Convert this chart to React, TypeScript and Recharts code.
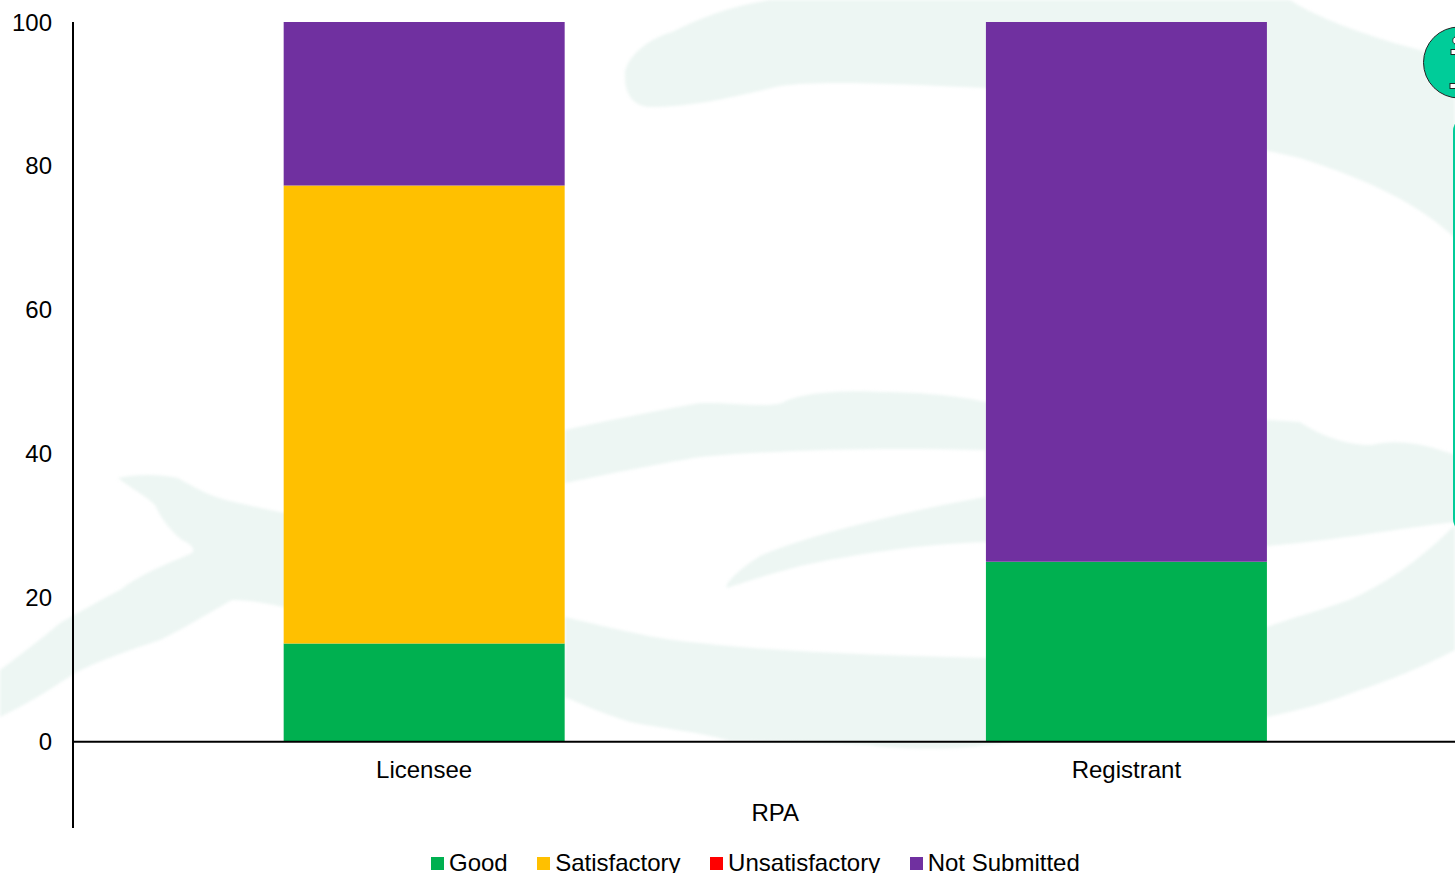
import { BarChart, Bar, XAxis, YAxis, ReferenceLine, Legend } from "recharts";

const categories = ["Licensee", "Registrant"];
const good = [13.64, 25];
const satisfactory = [63.64, 0];
const unsatisfactory = [0, 0];
const notSubmitted = [22.72, 75];
const yTicks = [0, 20, 40, 60, 80, 100];

const rows = categories.map((name, i) => ({
  name,
  Good: good[i],
  Satisfactory: satisfactory[i],
  Unsatisfactory: unsatisfactory[i],
  "Not Submitted": notSubmitted[i],
}));

const FONT = "'Liberation Sans', Arial, sans-serif";
const WASH = "#edf6f3";

// brush-stroke logo sitting behind the plot
const washPaths = [
  "M625 72 C628 55 650 38 672 32 C700 18 730 6 770 0 L1290 0 C1320 20 1380 40 1420 50 L1455 62 L1455 238 C1420 205 1370 180 1300 158 L985 88 C900 84 820 80 780 86 C730 98 690 107 650 107 C630 106 624 90 625 72 Z",
  "M565 430 C610 420 660 410 700 403 C730 402 765 408 782 403 C800 392 850 390 880 392 C920 392 960 396 985 402 L1300 422 C1320 436 1350 446 1372 445 C1400 438 1430 446 1455 455 L1455 522 C1400 528 1340 540 1267 546 L985 542 C920 544 850 555 800 566 C770 574 745 582 727 588 C724 585 735 572 760 556 C800 538 900 512 985 497 L985 450 C900 448 800 448 700 457 C650 465 600 476 565 483 Z",
  "M565 617 C620 630 660 640 700 643 C760 650 850 655 985 658 L1267 627 C1310 612 1340 605 1360 595 C1400 575 1430 550 1455 525 L1455 650 C1420 668 1390 680 1360 690 C1330 702 1300 710 1267 717 L985 745 C960 750 900 750 870 745 C820 742 770 741 730 741 C700 732 660 728 630 722 C605 714 585 706 565 697 Z",
  "M118 478 C135 474 160 474 178 478 C195 488 210 496 226 500 C250 506 270 510 290 514 L560 617 L560 697 L284 607 C270 604 250 600 232 600 C210 612 185 628 160 640 C130 650 100 660 75 673 C50 690 25 705 0 717 L0 670 C20 655 40 640 60 623 C80 612 100 600 120 590 C140 574 165 565 192 553 C196 548 190 544 182 540 C170 530 162 520 155 505 C145 495 130 488 118 478 Z",
];

function CategoryTick({ x, y, payload }: any) {
  return (
    <text x={x} y={y - 58} textAnchor="middle" fontSize={24} fontFamily={FONT} fill="#000">
      {payload.value}
    </text>
  );
}

function LegendRow({ payload }: any) {
  return (
    <div style={{ display: "flex", gap: 29.5, fontFamily: FONT, fontSize: 24, lineHeight: "24px", whiteSpace: "nowrap" }}>
      {payload.map((item: any) => (
        <div key={item.value} style={{ display: "flex", alignItems: "center", gap: 5 }}>
          <span style={{ width: 13, height: 13, background: item.color, display: "inline-block" }} />
          <span style={{ color: "#000" }}>{item.value}</span>
        </div>
      ))}
    </div>
  );
}

export default function App() {
  return (
    <div style={{ position: "absolute", left: 0, top: 0, width: 1455, height: 873, overflow: "hidden", background: "#fff" }}>
      <svg width={1455} height={873} style={{ position: "absolute", left: 0, top: 0, filter: "blur(1.5px)" }}>
        {washPaths.map((d, i) => (
          <path key={i} d={d} fill={WASH} />
        ))}
      </svg>
      <div style={{ position: "absolute", left: 0, top: 0 }}>
        <BarChart
          width={1500}
          height={873}
          data={rows}
          margin={{ top: 22, right: 22.5, left: 0, bottom: 44 }}
          barCategoryGap="30%"
        >
          <XAxis
            dataKey="name"
            axisLine={false}
            tickLine={false}
            height={1}
            interval={0}
            tick={CategoryTick}
            label={{ value: "RPA", position: "center", dy: -16, fontSize: 24, fontFamily: FONT, fill: "#000" }}
          />
          <YAxis
            width={73}
            domain={[-12, 100]}
            ticks={yTicks}
            interval={0}
            tickLine={false}
            tickSize={0}
            tickMargin={21}
            axisLine={{ stroke: "#000", strokeWidth: 2 }}
            tick={{ fontSize: 24, fontFamily: FONT, fill: "#000" }}
          />
          <Legend
            verticalAlign="middle"
            layout="horizontal"
            itemSorter={null}
            content={LegendRow}
            wrapperStyle={{ position: "absolute", left: 431, top: 851, width: "auto" }}
          />
          <Bar dataKey="Good" stackId="a" fill="#00b050" isAnimationActive={false} />
          <Bar dataKey="Satisfactory" stackId="a" fill="#ffc000" isAnimationActive={false} />
          <Bar dataKey="Unsatisfactory" stackId="a" fill="#ff0000" isAnimationActive={false} />
          <Bar dataKey="Not Submitted" stackId="a" fill="#7030a0" isAnimationActive={false} />
          <ReferenceLine y={0} stroke="#000" strokeWidth={2} />
        </BarChart>
      </div>
      {/* callout running off the right edge */}
      <svg width={1455} height={873} style={{ position: "absolute", left: 0, top: 0 }}>
        <circle cx={1459} cy={62.5} r={35.5} fill="#00cc99" stroke="#222" strokeWidth={1} />
        <path d="M1455 37 C1452 38 1452 43 1455 44" fill="#fff" stroke="#222" strokeWidth={1} />
        <rect x={1451} y={49.5} width={6} height={5} fill="#fff" stroke="#222" strokeWidth={1} />
        <rect x={1450} y={83.5} width={7} height={5} fill="#fff" stroke="#222" strokeWidth={1} />
        <rect x={1453} y={122} width={10} height={406} rx={9} fill="#00cc99" />
      </svg>
    </div>
  );
}
